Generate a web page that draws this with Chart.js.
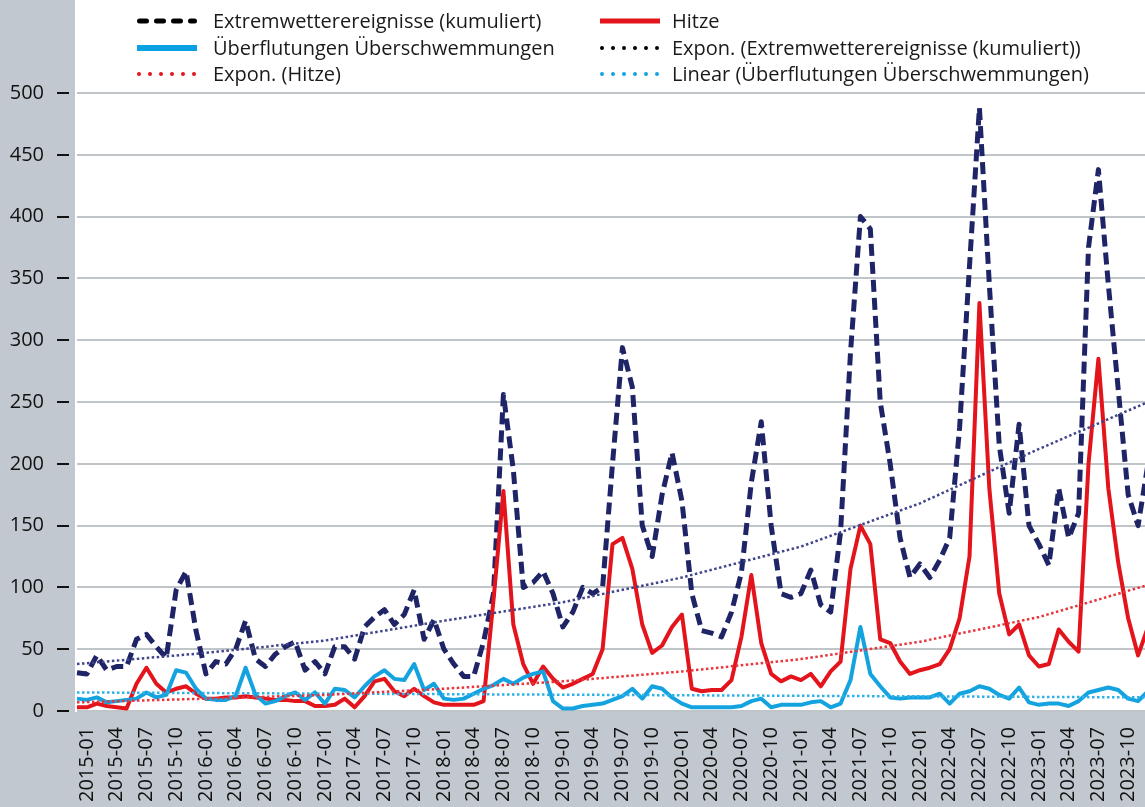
<!DOCTYPE html>
<html lang="de">
<head>
<meta charset="utf-8">
<title>Extremwetterereignisse</title>
<script src="https://cdn.jsdelivr.net/npm/chart.js@4.4.1/dist/chart.umd.min.js"></script>
<style>
  html, body { margin: 0; padding: 0; background: #c1c8cf; overflow: hidden; }
  #wrap { position: relative; width: 1148px; height: 807px; }
  #chart { display: block; }
  .lg { position: absolute; height: 26px; font: 20px "Open Sans", sans-serif; line-height: 26px; color: #1a1a1a; white-space: nowrap; }
  .lg svg { position: absolute; top: 8px; }
</style>
</head>
<body>
<div id="wrap">
  <canvas id="chart" width="1148" height="807"></canvas>
  <div id="legend"></div>
</div>
<script>
// Monate (erster Punkt liegt vor der ersten Beschriftung)
var months = [
  '2014-12',
  '2015-01', '2015-02', '2015-03', '2015-04', '2015-05', '2015-06', '2015-07', '2015-08', '2015-09', '2015-10', '2015-11', '2015-12',
  '2016-01', '2016-02', '2016-03', '2016-04', '2016-05', '2016-06', '2016-07', '2016-08', '2016-09', '2016-10', '2016-11', '2016-12',
  '2017-01', '2017-02', '2017-03', '2017-04', '2017-05', '2017-06', '2017-07', '2017-08', '2017-09', '2017-10', '2017-11', '2017-12',
  '2018-01', '2018-02', '2018-03', '2018-04', '2018-05', '2018-06', '2018-07', '2018-08', '2018-09', '2018-10', '2018-11', '2018-12',
  '2019-01', '2019-02', '2019-03', '2019-04', '2019-05', '2019-06', '2019-07', '2019-08', '2019-09', '2019-10', '2019-11', '2019-12',
  '2020-01', '2020-02', '2020-03', '2020-04', '2020-05', '2020-06', '2020-07', '2020-08', '2020-09', '2020-10', '2020-11', '2020-12',
  '2021-01', '2021-02', '2021-03', '2021-04', '2021-05', '2021-06', '2021-07', '2021-08', '2021-09', '2021-10', '2021-11', '2021-12',
  '2022-01', '2022-02', '2022-03', '2022-04', '2022-05', '2022-06', '2022-07', '2022-08', '2022-09', '2022-10', '2022-11', '2022-12',
  '2023-01', '2023-02', '2023-03', '2023-04', '2023-05', '2023-06', '2023-07', '2023-08', '2023-09', '2023-10', '2023-11', '2023-12'
];

// Extremwetterereignisse (kumuliert)
var extrem = [
  31,
  30, 45, 33, 36, 36, 58, 62, 52, 43, 98, 113, 65,
  30, 40, 38, 50, 73, 42, 36, 46, 52, 56, 33, 40,
  30, 52, 52, 42, 68, 76, 82, 70, 78, 98, 58, 74,
  50, 38, 28, 28, 56, 95, 256, 195, 100, 104, 113, 95,
  68, 80, 100, 95, 100, 200, 294, 262, 150, 125, 175, 209,
  170, 95, 65, 63, 60, 80, 112, 185, 234, 150, 95, 92,
  95, 114, 86, 80, 145, 290, 400, 390, 250, 200, 140, 108,
  119, 108, 122, 140, 229, 360, 488, 345, 215, 160, 232, 150,
  135, 118, 180, 140, 160, 375, 438, 345, 260, 175, 150, 200
];

// Hitze
var hitze = [
  3,
  3, 6, 4, 3, 2, 22, 35, 22, 15, 18, 20, 14,
  10, 10, 11, 11, 12, 11, 10, 9, 9, 8, 8, 4,
  4, 5, 10, 3, 12, 24, 26, 16, 12, 18, 12, 7,
  5, 5, 5, 5, 8, 90, 178, 70, 38, 22, 36, 26,
  19, 22, 26, 30, 50, 135, 140, 115, 70, 47, 53, 68,
  78, 18, 16, 17, 17, 25, 60, 110, 55, 30, 24, 28,
  25, 30, 20, 32, 40, 115, 150, 135, 58, 55, 40, 30,
  33, 35, 38, 50, 75, 125, 330, 180, 95, 62, 70, 45,
  36, 38, 66, 56, 48, 200, 285, 180, 120, 75, 45, 68
];

// Überflutungen Überschwemmungen
var flut = [
  10,
  9, 11, 7, 8, 9, 10, 15, 11, 13, 33, 31, 18,
  10, 9, 9, 12, 35, 13, 6, 8, 12, 15, 9, 15,
  6, 18, 17, 11, 20, 28, 33, 26, 25, 38, 17, 22,
  10, 9, 10, 14, 18, 21, 26, 22, 27, 30, 32, 8,
  2, 2, 4, 5, 6, 9, 12, 18, 10, 20, 18, 11,
  6, 3, 3, 3, 3, 3, 4, 8, 10, 3, 5, 5,
  5, 7, 8, 3, 6, 25, 68, 30, 20, 11, 10, 11,
  11, 11, 14, 6, 14, 16, 20, 18, 13, 10, 19, 7,
  5, 6, 6, 4, 8, 15, 17, 19, 17, 10, 8, 16
];

var trendMonths = ['2014-12', '2016-01', '2017-01', '2018-01', '2019-01', '2020-01', '2021-01', '2022-01', '2023-01', '2023-12'];
var trendExtrem = [38, 47, 57, 73, 88, 108, 133, 168, 212, 250];
var trendHitze = [7, 10, 13, 18, 24, 32, 42, 56, 76, 102];
var linearMonths = ['2014-12', '2023-12'];
var linearFlut = [15, 11];

var yTicks = [0, 50, 100, 150, 200, 250, 300, 350, 400, 450, 500];

function pairs(keys, vals) {
  return keys.map(function (k, i) { return { x: k, y: vals[i] }; });
}

// grauer Rand, weisse Zeichenfläche bis ganz oben
var panelPlugin = {
  id: 'panel',
  beforeDraw: function (c) {
    var g = c.ctx, a = c.chartArea;
    g.save();
    g.fillStyle = '#c1c8cf';
    g.fillRect(0, 0, c.width, c.height);
    g.fillStyle = '#ffffff';
    g.fillRect(a.left - 2, 0, c.width, a.bottom + 1);
    g.restore();
  }
};

var tickFont = { family: 'Open Sans', size: 20 };

var ctx = document.getElementById('chart').getContext('2d');
var chart = new Chart(ctx, {
  type: 'line',
  data: {
    labels: months,
    datasets: [
      {
        label: 'Extremwetterereignisse (kumuliert)',
        data: extrem,
        borderColor: '#1f2466',
        borderWidth: 5,
        borderDash: [12, 6],
        order: 5,
        legendSample: { color: '#000', width: 5, dash: '7 10', cap: 'round' }
      },
      {
        label: 'Hitze',
        data: hitze,
        borderColor: '#e3141b',
        borderWidth: 4,
        order: 4,
        legendSample: { color: '#e3141b', width: 5, dash: '', cap: 'butt' }
      },
      {
        label: 'Überflutungen Überschwemmungen',
        data: flut,
        borderColor: '#15a3e0',
        borderWidth: 4,
        order: 3,
        legendSample: { color: '#0aa0e2', width: 6, dash: '', cap: 'butt' }
      },
      {
        label: 'Expon. (Extremwetterereignisse (kumuliert))',
        data: pairs(trendMonths, trendExtrem),
        borderColor: '#40448c',
        borderWidth: 2.5,
        borderDash: [2.5, 2.5],
        order: 0,
        legendSample: { color: '#000', width: 4, dash: '0 11', cap: 'round' }
      },
      {
        label: 'Expon. (Hitze)',
        data: pairs(trendMonths, trendHitze),
        borderColor: '#e8343a',
        borderWidth: 2.5,
        borderDash: [2.5, 2.5],
        order: 1,
        legendSample: { color: '#e3141b', width: 4, dash: '0 11', cap: 'round' }
      },
      {
        label: 'Linear (Überflutungen Überschwemmungen)',
        data: pairs(linearMonths, linearFlut),
        borderColor: '#2cb1e8',
        borderWidth: 2.5,
        borderDash: [2.5, 2.5],
        order: 2,
        legendSample: { color: '#15a3e0', width: 4, dash: '0 11', cap: 'round' }
      }
    ]
  },
  options: {
    responsive: false,
    animation: false,
    layout: { padding: { top: 93, left: 0, right: 0, bottom: 0 } },
    plugins: {
      legend: { display: false },
      tooltip: { enabled: false }
    },
    elements: {
      point: { radius: 0 },
      line: { tension: 0, borderJoinStyle: 'round' }
    },
    scales: {
      x: {
        grid: { display: false, drawTicks: false },
        border: { display: false },
        ticks: {
          autoSkip: false,
          minRotation: 90,
          maxRotation: 90,
          padding: 16,
          color: '#111',
          font: tickFont,
          callback: function (v, i) { return i % 3 === 1 ? months[i] : ''; }
        },
        afterFit: function (s) { s.height = 96; s.paddingLeft = 0; s.paddingRight = 0; }
      },
      y: {
        min: 0,
        max: 500,
        afterBuildTicks: function (s) { s.ticks = yTicks.map(function (v) { return { value: v }; }); },
        ticks: { padding: 13, color: '#111', font: tickFont },
        grid: {
          color: '#c0c5ca',
          lineWidth: 2,
          tickColor: '#111',
          tickWidth: 2,
          tickLength: 20,
          tickBorderDash: [12, 40]
        },
        border: { display: false },
        afterFit: function (s) { s.width = 77; }
      }
    }
  },
  plugins: [panelPlugin]
});

// Legende: zwei Spalten, drei Zeilen (Reihenfolge zeilenweise)
var legendCols = [{ sample: 137, text: 213 }, { sample: 600, text: 672 }];
var legendRows = [8, 35, 61];
var legendHtml = '';
chart.data.datasets.forEach(function (ds, i) {
  var col = legendCols[i % 2], top = legendRows[Math.floor(i / 2)];
  var s = ds.legendSample;
  var half = s.cap === 'round' ? s.width / 2 : 0;
  legendHtml +=
    '<div class="lg" style="left:' + col.sample + 'px;top:' + top + 'px">' +
    '<svg width="62" height="10"><line x1="' + half + '" y1="5" x2="' + (60 - half) + '" y2="5" stroke="' + s.color +
    '" stroke-width="' + s.width + '" stroke-linecap="' + s.cap + '"' + (s.dash ? ' stroke-dasharray="' + s.dash + '"' : '') + '/></svg>' +
    '<span style="position:absolute;left:' + (col.text - col.sample) + 'px;top:0">' + ds.label + '</span></div>';
});
document.getElementById('legend').innerHTML = legendHtml;
</script>
</body>
</html>
